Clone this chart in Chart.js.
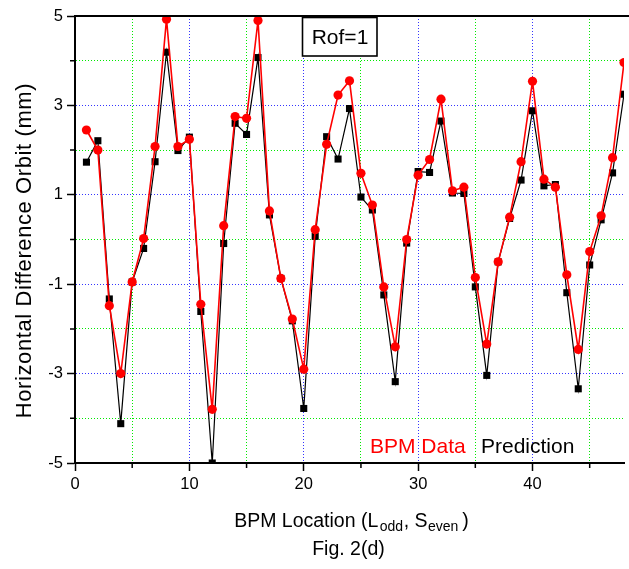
<!DOCTYPE html>
<html>
<head>
<meta charset="utf-8">
<script src="https://cdn.jsdelivr.net/npm/chart.js@4.4.1/dist/chart.umd.min.js"></script>
<style>
  html, body { margin: 0; padding: 0; background: #fff; }
  canvas { display: block; }
</style>
</head>
<body>
<canvas id="orbitChart" width="629" height="569"></canvas>
<script>
// BPM index along the ring
const bpmIndex = [1, 2, 3, 4, 5, 6, 7, 8, 9, 10, 11, 12, 13, 14, 15, 16,
    17, 18, 19, 20, 21, 22, 23, 24, 25, 26, 27, 28, 29, 30, 31, 32,
    33, 34, 35, 36, 37, 38, 39, 40, 41, 42, 43, 44, 45, 46, 47, 48];

// measured horizontal difference orbit (mm)
const bpmData = [2.45, 2.0, -1.48, -3.0, -0.95, 0.02, 2.08, 4.93, 2.08, 2.24, -1.45, -3.8, 0.31, 2.75, 2.71, 4.9,
    0.64, -0.87, -1.78, -2.9, 0.22, 2.13, 3.23, 3.55, 1.48, 0.77, -1.06, -2.4, 0.0, 1.44, 1.79, 3.14,
    1.09, 1.17, -0.85, -2.34, -0.5, 0.5, 1.74, 3.54, 1.35, 1.17, -0.79, -2.46, -0.27, 0.53, 1.83, 3.96];

// model prediction (mm)
const prediction = [1.73, 2.21, -1.33, -4.12, -0.95, -0.2, 1.74, 4.19, 1.99, 2.29, -1.61, -5.0, -0.09, 2.6, 2.35, 4.07,
    0.55, -0.87, -1.82, -3.78, 0.07, 2.3, 1.8, 2.93, 0.95, 0.66, -1.24, -3.18, -0.08, 1.52, 1.5, 2.65,
    1.04, 1.03, -1.06, -3.04, -0.5, 0.47, 1.33, 2.88, 1.2, 1.23, -1.19, -3.34, -0.57, 0.44, 1.49, 3.25];

// axis ticks (major = labelled, the rest are minor)
const xTicks = [0, 5, 10, 15, 20, 25, 30, 35, 40, 45];
const xTickLabels = [0, 10, 20, 30, 40];
const yTicks = [-5, -4, -3, -2, -1, 0, 1, 2, 3, 4, 5];
const yTickLabels = [5, 3, 1, -1, -3, -5];

const FONT = 'Liberation Sans, Arial, sans-serif';
const BLUE = 'rgba(30, 30, 255, 0.9)';
const GREEN = 'rgba(0, 235, 0, 1)';

const isMajorX = v => xTickLabels.includes(v);
const isMajorY = v => yTickLabels.includes(v);

// frame, minor ticks, text annotations and titles
const decorations = {
    id: 'decorations',
    afterDraw(chart) {
        const { ctx, chartArea: area, scales: { x, y } } = chart;
        ctx.save();

        // top frame line
        ctx.strokeStyle = '#000';
        ctx.lineWidth = 2;
        ctx.beginPath();
        ctx.moveTo(area.left - 1, area.top);
        ctx.lineTo(chart.width, area.top);
        ctx.stroke();

        // minor ticks
        ctx.lineWidth = 1.5;
        ctx.beginPath();
        xTicks.filter(v => !isMajorX(v)).forEach(v => {
            const px = x.getPixelForValue(v);
            ctx.moveTo(px, area.bottom);
            ctx.lineTo(px, area.bottom + 5);
        });
        yTicks.filter(v => !isMajorY(v)).forEach(v => {
            const py = y.getPixelForValue(v);
            ctx.moveTo(area.left - 5, py);
            ctx.lineTo(area.left, py);
        });
        ctx.stroke();

        // Rof=1 box
        const bx = area.left + 227.5, by = area.top + 1.5;
        ctx.fillStyle = '#fff';
        ctx.fillRect(bx, by, 74.5, 38.5);
        ctx.lineWidth = 1.6;
        ctx.strokeRect(bx, by, 74.5, 38.5);
        ctx.fillStyle = '#000';
        ctx.font = '21px ' + FONT;
        ctx.textAlign = 'center';
        ctx.textBaseline = 'alphabetic';
        ctx.fillText('Rof=1', bx + 37.5, by + 26.7);

        // legend text
        ctx.textAlign = 'left';
        ctx.fillStyle = '#ff0000';
        ctx.fillText('BPM Data', area.left + 295, area.bottom - 10.5);
        ctx.fillStyle = '#000';
        ctx.fillText('Prediction', area.left + 406, area.bottom - 10.5);

        // x axis title with subscripts: [text, size, drop, gap before, gap after]
        const parts = [
            ['BPM Location (L', 19.5, 0, 0, 0],
            ['odd', 14, 3.5, 1.5, 0.5],
            [', S', 19.5, 0, 0, 0],
            ['even', 14, 3.5, 0.5, 4],
            [')', 19.5, 0, 0, 0]
        ];
        let total = 0;
        parts.forEach(([t, s, , g1, g2]) => {
            ctx.font = s + 'px ' + FONT;
            total += ctx.measureText(t).width + g1 + g2;
        });
        let cx = (area.left + area.right) / 2 + 2 - total / 2;
        const base = area.bottom + 64;
        parts.forEach(([t, s, dy, g1, g2]) => {
            ctx.font = s + 'px ' + FONT;
            cx += g1;
            ctx.fillText(t, cx, base + dy);
            cx += ctx.measureText(t).width + g2;
        });

        ctx.font = '19.5px ' + FONT;
        ctx.textAlign = 'center';
        ctx.fillText('Fig. 2(d)', (area.left + area.right) / 2 - 1, area.bottom + 92);

        // y axis title
        ctx.translate(30.5, 250.5);
        ctx.rotate(-Math.PI / 2);
        ctx.font = '22px ' + FONT;
        ctx.letterSpacing = '0.6px';
        ctx.fillText('Horizontal Difference Orbit (mm)', 0, 0);

        ctx.restore();
    }
};

const ctx = document.getElementById('orbitChart').getContext('2d');
new Chart(ctx, {
    type: 'line',
    data: {
        labels: bpmIndex,
        datasets: [{
            label: 'BPM Data',
            data: bpmIndex.map((b, i) => ({ x: b, y: bpmData[i] })),
            borderColor: '#ff0000',
            backgroundColor: '#ff0000',
            borderWidth: 1.6,
            pointStyle: 'circle',
            pointRadius: 4.6,
            pointBorderWidth: 0,
            pointHoverRadius: 4.6,
            tension: 0
        }, {
            label: 'Prediction',
            data: bpmIndex.map((b, i) => ({ x: b, y: prediction[i] })),
            borderColor: '#000',
            backgroundColor: '#000',
            borderWidth: 1.2,
            pointStyle: 'rect',
            pointRadius: 5,
            pointBorderWidth: 0,
            pointHoverRadius: 5,
            tension: 0
        }]
    },
    options: {
        responsive: false,
        animation: false,
        layout: {
            padding: { top: 16, right: 0.5, left: 0, bottom: 0 }
        },
        plugins: {
            legend: { display: false },
            tooltip: { enabled: false }
        },
        scales: {
            x: {
                type: 'linear',
                min: 0,
                max: 48,
                afterBuildTicks: scale => {
                    scale.ticks = xTicks.map(v => ({ value: v }));
                },
                afterFit: scale => {
                    scale.height = 106;
                },
                ticks: {
                    autoSkip: false,
                    maxRotation: 0,
                    padding: 4,
                    color: '#000',
                    font: { family: FONT, size: 16.5 },
                    callback: v => isMajorX(v) ? String(v) : ''
                },
                grid: {
                    color: c => isMajorX(c.tick.value) ? BLUE : GREEN,
                    lineWidth: 1,
                    tickLength: 8,
                    tickWidth: 1.5,
                    tickColor: c => isMajorX(c.tick.value) ? '#000' : 'rgba(0,0,0,0)'
                },
                border: {
                    color: '#000',
                    width: 2,
                    dash: [1, 2]
                }
            },
            y: {
                min: -5,
                max: 5,
                afterBuildTicks: scale => {
                    scale.ticks = yTicks.map(v => ({ value: v }));
                },
                afterFit: scale => {
                    scale.width = 75;
                },
                ticks: {
                    autoSkip: false,
                    padding: 4,
                    color: '#000',
                    font: { family: FONT, size: 16.5 },
                    callback: v => isMajorY(v) ? String(v) : ''
                },
                grid: {
                    color: c => isMajorY(c.tick.value) ? BLUE : GREEN,
                    lineWidth: 1,
                    tickLength: 8,
                    tickWidth: 1.5,
                    tickColor: c => isMajorY(c.tick.value) ? '#000' : 'rgba(0,0,0,0)'
                },
                border: {
                    color: '#000',
                    width: 2,
                    dash: [1, 2]
                }
            }
        }
    },
    plugins: [decorations]
});
</script>
</body>
</html>
